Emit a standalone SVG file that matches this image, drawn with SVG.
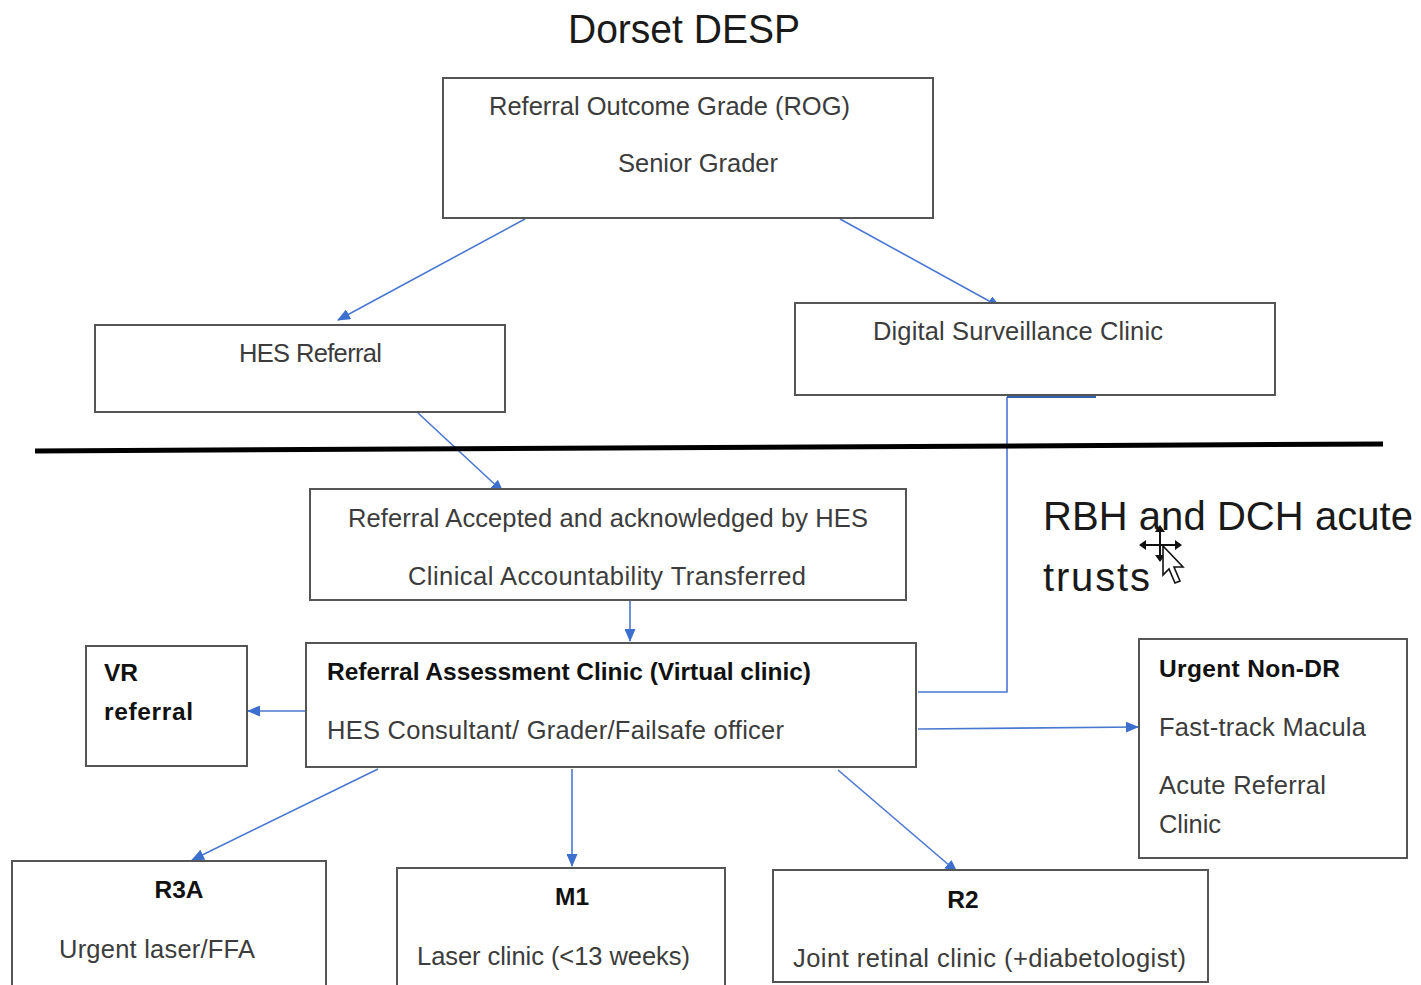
<svg xmlns="http://www.w3.org/2000/svg" width="1421" height="985" viewBox="0 0 1421 985">
<defs>
<style>
.box{fill:#fff;stroke:#555;stroke-width:2}
.t{font-family:"Liberation Sans",Arial,sans-serif;font-size:25.5px;fill:#3c3c3c}
.b{font-family:"Liberation Sans",Arial,sans-serif;font-size:24.5px;font-weight:bold;fill:#111}
.big{font-family:"Liberation Sans",Arial,sans-serif;font-size:40px;fill:#1a1a1a}
.c{fill:none;stroke:#4a78d0;stroke-width:1.6}
</style>
<marker id="arr" viewBox="0 0 13 11" refX="12" refY="5.5" markerWidth="13" markerHeight="11" markerUnits="userSpaceOnUse" orient="auto">
<path d="M0,0 L13,5.5 L0,11 z" fill="#3d6fcf"/>
</marker>
</defs>
<rect width="1421" height="985" fill="#fff"/>

<text class="big" x="568" y="43" textLength="232" lengthAdjust="spacingAndGlyphs">Dorset DESP</text>

<g id="connectors">
<line class="c" x1="525" y1="219" x2="338" y2="320" marker-end="url(#arr)"/>
<line class="c" x1="840" y1="219" x2="1000" y2="307" marker-end="url(#arr)"/>
<line class="c" x1="418" y1="413" x2="503" y2="492" marker-end="url(#arr)"/>
<line class="c" x1="630" y1="601" x2="630" y2="641" marker-end="url(#arr)"/>
<polyline class="c" points="1007,397 1007,692 918,692"/>
<line x1="1007" y1="397" x2="1096" y2="397" stroke="#3560b0" stroke-width="2"/>
<line class="c" x1="918" y1="729" x2="1138" y2="727" marker-end="url(#arr)"/>
<line class="c" x1="306" y1="711" x2="248" y2="711" marker-end="url(#arr)"/>
<line class="c" x1="378" y1="769" x2="192" y2="860" marker-end="url(#arr)"/>
<line class="c" x1="572" y1="769" x2="572" y2="866" marker-end="url(#arr)"/>
<line class="c" x1="838" y1="770" x2="957" y2="872" marker-end="url(#arr)"/>
</g>

<line x1="35" y1="451" x2="1383" y2="444" stroke="#000" stroke-width="5"/>

<g id="rog">
<rect class="box" x="443" y="78" width="490" height="140"/>
<text class="t" x="489" y="115" textLength="361">Referral Outcome Grade (ROG)</text>
<text class="t" x="618" y="172" textLength="160">Senior Grader</text>
</g>

<g id="hes">
<rect class="box" x="95" y="325" width="410" height="87"/>
<text class="t" x="239" y="362" textLength="143">HES Referral</text>
</g>

<g id="dsc">
<rect class="box" x="795" y="303" width="480" height="92"/>
<text class="t" x="873" y="340" textLength="290">Digital Surveillance Clinic</text>
</g>

<g id="accepted">
<rect class="box" x="310" y="489" width="596" height="111"/>
<text class="t" x="348" y="527" textLength="520">Referral Accepted and acknowledged by HES</text>
<text class="t" x="408" y="585" textLength="398">Clinical Accountability Transferred</text>
</g>

<g id="trusts">
<text class="big" x="1043" y="530" textLength="370">RBH and DCH acute</text>
<text class="big" x="1043" y="591" textLength="107">trusts</text>
</g>

<g id="cursor">
<path d="M1160,527 L1160,560 M1141,545 L1180,545" stroke="#111" stroke-width="2" fill="none"/>
<path d="M1160,525 L1155,532 L1165,532 z M1139,545 L1146,540 L1146,550 z M1182,545 L1175,540 L1175,550 z M1160,562 L1155,555 L1165,555 z" fill="#111"/>
<path d="M1163,546 L1163,575 L1169,569 L1175,583 L1180,581 L1174,567 L1183,567 z" fill="#fff" stroke="#111" stroke-width="1.6"/>
</g>

<g id="rac">
<rect class="box" x="306" y="643" width="610" height="124"/>
<text class="b" x="327" y="680" textLength="484">Referral Assessment Clinic (Virtual clinic)</text>
<text class="t" x="327" y="739" textLength="457">HES Consultant/ Grader/Failsafe officer</text>
</g>

<g id="vr">
<rect class="box" x="86" y="646" width="161" height="120"/>
<text class="b" x="104" y="681">VR</text>
<text class="b" x="104" y="720" textLength="89">referral</text>
</g>

<g id="urgent">
<rect class="box" x="1139" y="639" width="268" height="219"/>
<text class="b" x="1159" y="677" textLength="181">Urgent Non-DR</text>
<text class="t" x="1159" y="736" textLength="207">Fast-track Macula</text>
<text class="t" x="1159" y="794" textLength="167">Acute Referral</text>
<text class="t" x="1159" y="833" textLength="62">Clinic</text>
</g>

<g id="r3a">
<rect class="box" x="12" y="861" width="314" height="140"/>
<text class="b" x="179" y="898" text-anchor="middle">R3A</text>
<text class="t" x="59" y="958" textLength="196">Urgent laser/FFA</text>
</g>

<g id="m1">
<rect class="box" x="397" y="868" width="328" height="140"/>
<text class="b" x="572" y="905" text-anchor="middle">M1</text>
<text class="t" x="417" y="965" textLength="273">Laser clinic (&lt;13 weeks)</text>
</g>

<g id="r2">
<rect class="box" x="773" y="870" width="435" height="112"/>
<text class="b" x="963" y="908" text-anchor="middle">R2</text>
<text class="t" x="793" y="967" textLength="393">Joint retinal clinic (+diabetologist)</text>
</g>
</svg>
